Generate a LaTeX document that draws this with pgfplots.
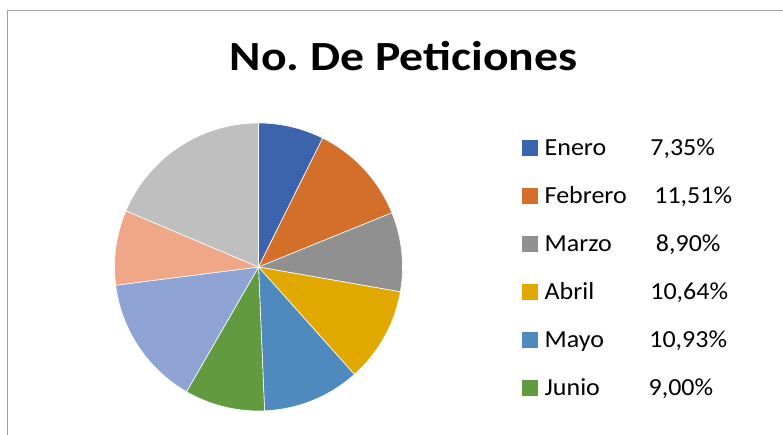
\documentclass[border=0pt]{standalone}
\usepackage{fontspec}
\setmainfont{Carlito}
\newfontfamily\titlefont[FakeStretch=1.15]{Carlito}
\newfontfamily\legfont[FakeStretch=1.06]{Carlito}
\usepackage{pgfplots}
\usepackage{pgfplotstable}
\pgfplotsset{compat=1.18}
\definecolor{c0}{HTML}{3C64AD}
\definecolor{c1}{HTML}{D36F2B}
\definecolor{c2}{HTML}{909090}
\definecolor{c3}{HTML}{E1A900}
\definecolor{c4}{HTML}{4F8ABE}
\definecolor{c5}{HTML}{629A3F}
\definecolor{c6}{HTML}{8FA3D4}
\definecolor{c7}{HTML}{F0A788}
\definecolor{c8}{HTML}{BFBFBF}
\definecolor{frame}{HTML}{A0A0A0}
\pgfplotstableread{
mes valor
Enero 7.35
Febrero 11.51
Marzo 8.90
Abril 10.64
Mayo 10.93
Junio 9.00
Julio 14.65
Agosto 8.39
Septiembre 18.63
}\datos
\begin{document}
\frenchspacing
\begin{tikzpicture}[x=1bp,y=1bp]
\useasboundingbox (0,0) rectangle (783,435);
\clip (0,0) rectangle (783,435);
\fill[white] (0,0) rectangle (783,435);
\draw[color=frame, line width=1.3bp] (7.5,-20) -- (7.5,424.2) -- (800,424.2);
\node[anchor=base, inner sep=0pt, font=\titlefont\fontsize{41.5bp}{48bp}\selectfont\bfseries] at (403.5,364.3) {No.\ De Peticiones};
\begin{axis}[at={(258.5bp,168bp)}, anchor=center, scale only axis,
  width=288bp, height=288bp, xmin=-1, xmax=1, ymin=-1, ymax=1,
  hide axis, clip=false,
  legend cell align=left,
  legend style={at={(1.4149,0.9983)}, anchor=north west, draw=none, fill=none,
    inner sep=0pt, outer sep=0pt, row sep=0pt, column sep=0pt,
    font=\legfont\fontsize{24.5bp}{30bp}\selectfont,
    nodes={inner sep=0pt, text height=31.7bp, text depth=16.3bp}},
]
\pgfplotsextra{%
  \gdef\acum{0}%
  \foreach \i in {0,...,8} {%
    \pgfplotstablegetelem{\i}{valor}\of\datos
    \let\v\pgfplotsretval
    \pgfmathsetmacro\a{90-3.6*\acum}%
    \pgfmathsetmacro\b{90-3.6*(\acum+\v)}%
    \fill[c\i, draw=white, line width=0.6bp] (axis cs:0,0) -- (axis cs:{cos(\a)},{sin(\a)}) arc[start angle=\a, end angle=\b, radius=144bp] -- cycle;
    \pgfmathsetmacro\tmp{\acum+\v}%
    \xdef\acum{\tmp}%
  }%
}
\addlegendimage{legend image code/.code={\fill[c0] (0bp,-7.25bp) rectangle (14.5bp,7.25bp); \path (22.3bp,0bp);}}
\addlegendentry{\makebox[105.7bp][l]{Enero}7,35\%}
\addlegendimage{legend image code/.code={\fill[c1] (0bp,-7.25bp) rectangle (14.5bp,7.25bp); \path (22.3bp,0bp);}}
\addlegendentry{\makebox[109.7bp][l]{Febrero}11,51\%}
\addlegendimage{legend image code/.code={\fill[c2] (0bp,-7.25bp) rectangle (14.5bp,7.25bp); \path (22.3bp,0bp);}}
\addlegendentry{\makebox[111.3bp][l]{Marzo}8,90\%}
\addlegendimage{legend image code/.code={\fill[c3] (0bp,-7.25bp) rectangle (14.5bp,7.25bp); \path (22.3bp,0bp);}}
\addlegendentry{\makebox[105.7bp][l]{Abril}10,64\%}
\addlegendimage{legend image code/.code={\fill[c4] (0bp,-7.25bp) rectangle (14.5bp,7.25bp); \path (22.3bp,0bp);}}
\addlegendentry{\makebox[104.7bp][l]{Mayo}10,93\%}
\addlegendimage{legend image code/.code={\fill[c5] (0bp,-7.25bp) rectangle (14.5bp,7.25bp); \path (22.3bp,0bp);}}
\addlegendentry{\makebox[104bp][l]{Junio}9,00\%}
\end{axis}
\end{tikzpicture}
\end{document}
